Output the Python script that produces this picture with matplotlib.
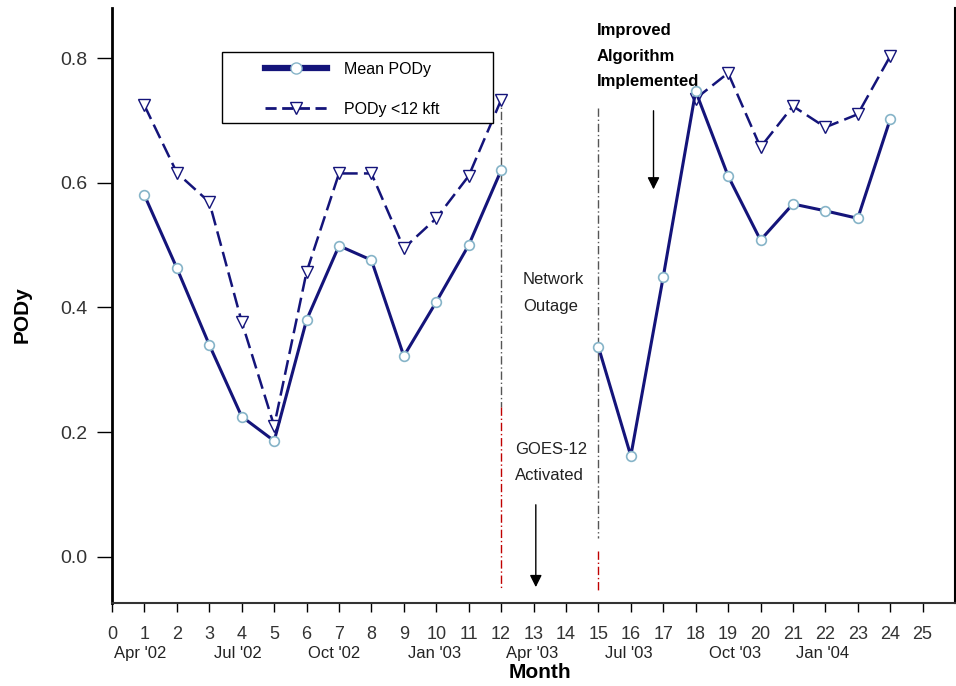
import matplotlib.pyplot as plt
import numpy as np
from matplotlib.lines import Line2D
from matplotlib.patches import Rectangle

plt.rcParams['font.family'] = ['Liberation Sans', 'DejaVu Sans']

months = np.arange(1, 25)
nan = np.nan
mean_pody = [0.58, 0.463, 0.34, 0.225, 0.186, 0.38, 0.499, 0.476, 0.322, 0.409, 0.50, 0.62,
             nan, nan, 0.337, 0.162, 0.449, 0.747, 0.611, 0.508, 0.566, 0.555, 0.543, 0.702]
pody_low = [0.724, 0.616, 0.569, 0.377, 0.21, 0.457, 0.615, 0.615, 0.495, 0.543, 0.611, 0.733,
            nan, nan, nan, nan, nan, 0.735, 0.776, 0.657, 0.723, 0.689, 0.71, 0.803]
month_pos = [0.86, 3.88, 6.84, 9.95, 12.95, 15.94, 19.2, 21.9]
month_names = ["Apr '02", "Jul '02", "Oct '02", "Jan '03", "Apr '03", "Jul '03", "Oct '03", "Jan '04"]

navy = '#14147a'
fig = plt.figure(figsize=(9.56, 6.86), dpi=100)
ax = fig.add_axes([0.1172, 0.121, 0.8818, 0.867])

ax.plot(months, mean_pody, color=navy, lw=2.2, marker='o', ms=7,
        mfc='white', mec='#86b4c8', mew=1.2, zorder=4)
ax.plot(months, pody_low, color=navy, lw=1.8, ls=(0, (6, 2.5)), marker='v', ms=9,
        mfc='white', mec=navy, mew=1, zorder=3)

# event lines
dashdot = (0, (6, 2, 1, 2))
ax.plot([12, 12], [0.74, 0.24], color='#555555', lw=1, ls=dashdot, zorder=2)
ax.plot([12, 12], [0.24, -0.053], color='#c00000', lw=1, ls=dashdot, zorder=2)
ax.plot([15, 15], [0.72, 0.03], color='#555555', lw=1, ls=dashdot, zorder=2)
ax.plot([15, 15], [0.01, -0.053], color='#c00000', lw=1, ls=dashdot, zorder=2)

ax.annotate('', xy=(16.7, 0.585), xytext=(16.7, 0.72),
            arrowprops=dict(arrowstyle='-|>', color='black', lw=1, mutation_scale=18))
ax.annotate('', xy=(13.07, -0.053), xytext=(13.07, 0.088),
            arrowprops=dict(arrowstyle='-|>', color='black', lw=1, mutation_scale=18))

for txt, yy in zip(['Improved', 'Algorithm', 'Implemented'], [0.845, 0.803, 0.762]):
    ax.text(14.95, yy, txt, fontsize=12, fontweight='bold', va='center', ha='left')
for txt, yy in zip(['Network', 'Outage'], [0.445, 0.402]):
    ax.text(12.67, yy, txt, fontsize=12, va='center', ha='left', color='#222222')
for txt, yy in zip(['GOES-12', 'Activated'], [0.172, 0.13]):
    ax.text(12.42, yy, txt, fontsize=12, va='center', ha='left', color='#222222')

ax.set_xlim(0, 26)
ax.set_ylim(-0.074, 0.88)
ax.set_xticks(range(0, 26))
ax.set_yticks([0.0, 0.2, 0.4, 0.6, 0.8])
ax.set_yticklabels(['0.0', '0.2', '0.4', '0.6', '0.8'])
ax.tick_params(axis='y', direction='out', length=11, width=1, pad=7, labelsize=14, labelcolor='#333333')
ax.tick_params(axis='x', direction='out', length=6.5, width=1, pad=10, labelsize=13, labelcolor='#333333')

ax.spines['top'].set_visible(False)
ax.spines['left'].set_linewidth(2)
ax.spines['bottom'].set_linewidth(1.5)
ax.spines['bottom'].set_color('#333333')
ax.spines['right'].set_linewidth(1.5)

for pos, name in zip(month_pos, month_names):
    ax.text(pos, -0.155, name, fontsize=12, ha='center', va='center', color='#222222')
ax.text(13.2, -0.186, 'Month', fontsize=15, fontweight='bold', ha='center', va='center')
fig.text(0.023, 0.542, 'PODy', fontsize=15, fontweight='bold', rotation=90, ha='center', va='center')

# legend frame drawn separately so the box can be wider than its content
ax.add_patch(Rectangle((0.130, 0.807), 0.322, 0.119, transform=ax.transAxes,
                       facecolor='white', edgecolor='black', lw=1, zorder=5))
handles = [Line2D([], [], color=navy, lw=4.5, marker='o', ms=8, mfc='white', mec='#86b4c8'),
           Line2D([], [], color=navy, lw=2, ls=(0, (4, 2)), marker='v', ms=9, mfc='white', mec=navy)]
leg = ax.legend(handles, ['Mean PODy', 'PODy <12 kft'], loc='upper left',
                bbox_to_anchor=(0.1815, 0.9096), borderaxespad=0, borderpad=0, fontsize=11.5,
                handlelength=3.9, frameon=False, labelspacing=1.55, handletextpad=1.06)
leg.set_zorder(6)

fig.savefig('out.png', dpi=100)
